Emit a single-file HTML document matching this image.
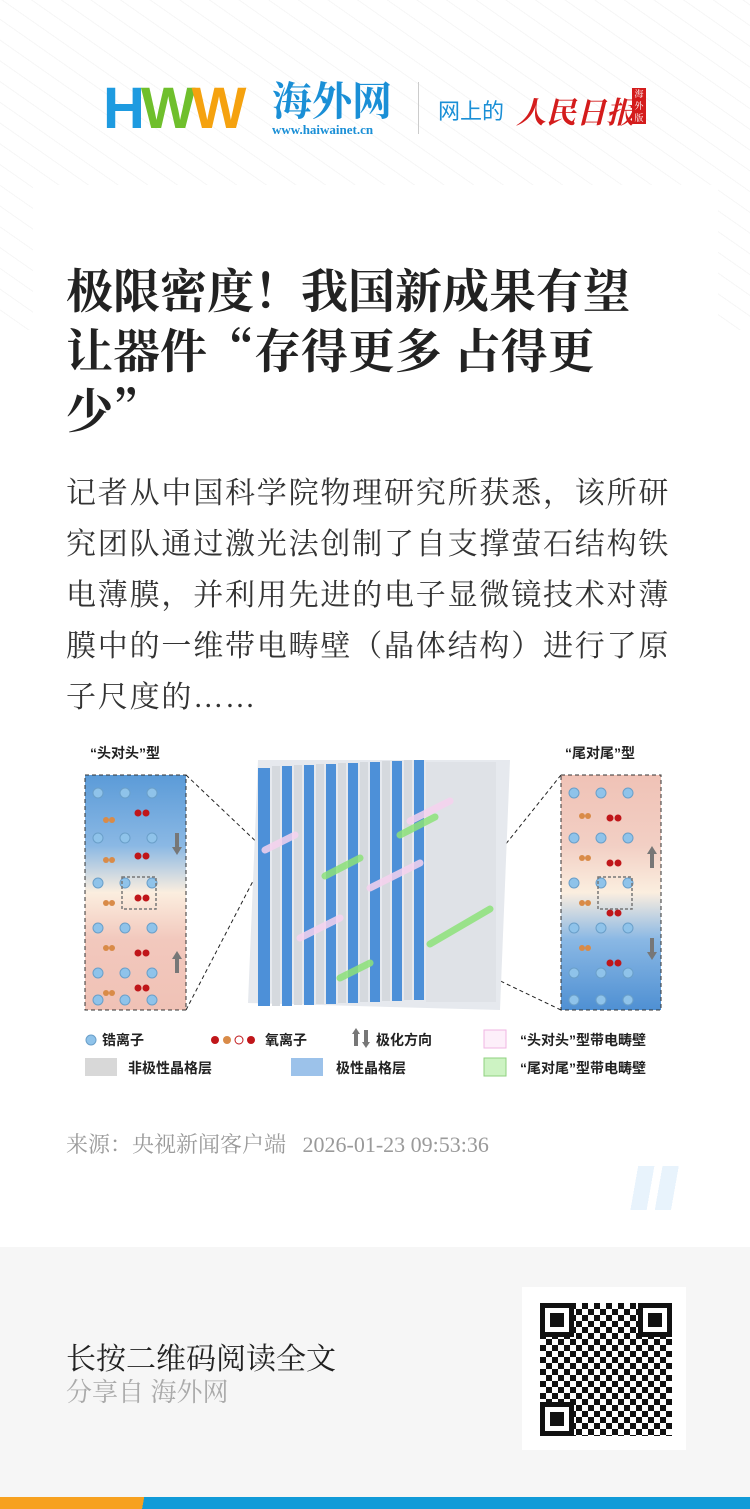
<!DOCTYPE html>
<html><head><meta charset="utf-8"><style>
*{margin:0;padding:0;box-sizing:border-box}
body{width:750px;height:1509px;position:relative;background:#fff;font-family:"Liberation Serif","Noto Serif CJK SC",serif;overflow:hidden}
.bg{position:absolute;left:0;top:0;width:750px;height:330px;background:repeating-linear-gradient(35deg,#fff 0 16px,#f6f6f6 16px 17px)}
.card{position:absolute;left:33px;top:185px;width:685px;height:1062px;background:#fff}
.title{position:absolute;left:66px;top:259px;width:680px;font-size:47px;font-weight:bold;line-height:60px;color:#222;white-space:nowrap;font-family:"Noto Serif CJK SC",serif}
.body{position:absolute;left:66px;top:468px;width:612px;font-size:30px;line-height:51px;color:#333;letter-spacing:1.8px}
.src{position:absolute;left:66px;top:1128px;font-size:22px;color:#9a9a9a}
.foot{position:absolute;left:0;top:1247px;width:750px;height:250px;background:#f6f6f6}
.stripe{position:absolute;left:0;top:1497px;width:750px;height:12px;background:linear-gradient(100deg,#f7a11f 0 142px,#119bd8 142px)}
.qrbox{position:absolute;left:522px;top:1287px;width:164px;height:163px;background:#fff}
.qr{position:absolute;left:540px;top:1303px;width:132px;height:133px;background:
repeating-conic-gradient(#111 0 25%,#fff 0 50%) 0 0/12px 12px}
.fp{position:absolute;width:34px;height:34px;border:5px solid #111;background:#fff}
.fp::after{content:"";position:absolute;left:5px;top:5px;width:14px;height:14px;background:#111}
</style></head><body>
<div class="bg"></div>
<div style="position:absolute;left:103px;top:84px;font:bold 58px 'Liberation Sans',sans-serif;letter-spacing:-4px;line-height:50px"><span style="color:#1e9be0">H</span><span style="color:#6fbf2c">W</span><span style="color:#f5a20f">W</span></div>
<div style="position:absolute;left:272px;top:80px;font-size:40px;font-weight:bold;color:#1a8fd6;line-height:44px">海外网</div>
<div style="position:absolute;left:272px;top:122px;font-size:13px;font-weight:bold;color:#1a8fd6">www.haiwainet.cn</div>
<div style="position:absolute;left:418px;top:82px;width:1px;height:52px;background:#ccc"></div>
<div style="position:absolute;left:438px;top:94px;font:22px 'Liberation Sans','Noto Sans CJK SC',sans-serif;color:#1a8fd6">网上的</div>
<div style="position:absolute;left:516px;top:88px;font-size:30px;font-weight:bold;font-style:italic;color:#d41c1c">人民日报</div>
<div style="position:absolute;left:632px;top:88px;width:14px;height:36px;background:#d41c1c;color:#fff;font-size:9px;line-height:12px;text-align:center">海外版</div>
<div class="card"></div>
<div class="title">极限密度！我国新成果有望<br>让器件“存得更多 占得更<br>少”</div>
<div class="body">记者从中国科学院物理研究所获悉，该所研究团队通过激光法创制了自支撑萤石结构铁电薄膜，并利用先进的电子显微镜技术对薄膜中的一维带电畴壁（晶体结构）进行了原子尺度的……</div>
<svg style="position:absolute;left:80px;top:738px" width="595" height="350" viewBox="0 0 595 350">
<defs>
<linearGradient id="l" x1="0" y1="0" x2="0" y2="1"><stop offset="0" stop-color="#5b9bd8"/><stop offset=".3" stop-color="#8ab8e4"/><stop offset=".5" stop-color="#fbeedf"/><stop offset=".7" stop-color="#f2c8bd"/><stop offset="1" stop-color="#f0c2b6"/></linearGradient>
<linearGradient id="r" x1="0" y1="0" x2="0" y2="1"><stop offset="0" stop-color="#f0c2b6"/><stop offset=".3" stop-color="#f2cfc4"/><stop offset=".5" stop-color="#fbeedf"/><stop offset=".7" stop-color="#8ab8e4"/><stop offset="1" stop-color="#4f90d3"/></linearGradient>
</defs>
<g font-family="Liberation Sans,Noto Sans CJK SC,sans-serif" font-weight="bold" font-size="14" fill="#222">
<text x="10" y="20">“头对头”型</text><text x="485" y="20">“尾对尾”型</text></g>
<rect x="5" y="37" width="101" height="235" fill="url(#l)" stroke="#333" stroke-dasharray="4 3"/>
<rect x="481" y="37" width="100" height="235" fill="url(#r)" stroke="#333" stroke-dasharray="4 3"/>
<g fill="#8fc3ea" stroke="#6a9fc9">
<circle cx="18" cy="55" r="5"/><circle cx="45" cy="55" r="5"/><circle cx="72" cy="55" r="5"/>
<circle cx="18" cy="100" r="5"/><circle cx="45" cy="100" r="5"/><circle cx="72" cy="100" r="5"/>
<circle cx="18" cy="145" r="5"/><circle cx="45" cy="145" r="5"/><circle cx="72" cy="145" r="5"/>
<circle cx="18" cy="190" r="5"/><circle cx="45" cy="190" r="5"/><circle cx="72" cy="190" r="5"/>
<circle cx="18" cy="235" r="5"/><circle cx="45" cy="235" r="5"/><circle cx="72" cy="235" r="5"/>
<circle cx="18" cy="262" r="5"/><circle cx="45" cy="262" r="5"/><circle cx="72" cy="262" r="5"/>
<circle cx="494" cy="55" r="5"/><circle cx="521" cy="55" r="5"/><circle cx="548" cy="55" r="5"/>
<circle cx="494" cy="100" r="5"/><circle cx="521" cy="100" r="5"/><circle cx="548" cy="100" r="5"/>
<circle cx="494" cy="145" r="5"/><circle cx="521" cy="145" r="5"/><circle cx="548" cy="145" r="5"/>
<circle cx="494" cy="190" r="5"/><circle cx="521" cy="190" r="5"/><circle cx="548" cy="190" r="5"/>
<circle cx="494" cy="235" r="5"/><circle cx="521" cy="235" r="5"/><circle cx="548" cy="235" r="5"/>
<circle cx="494" cy="262" r="5"/><circle cx="521" cy="262" r="5"/><circle cx="548" cy="262" r="5"/></g>
<g fill="#c0161a"><circle cx="58" cy="75" r="3.5"/><circle cx="66" cy="75" r="3.5"/><circle cx="58" cy="118" r="3.5"/><circle cx="66" cy="118" r="3.5"/><circle cx="58" cy="160" r="3.5"/><circle cx="66" cy="160" r="3.5"/><circle cx="58" cy="215" r="3.5"/><circle cx="66" cy="215" r="3.5"/><circle cx="58" cy="250" r="3.5"/><circle cx="66" cy="250" r="3.5"/>
<circle cx="530" cy="80" r="3.5"/><circle cx="538" cy="80" r="3.5"/><circle cx="530" cy="125" r="3.5"/><circle cx="538" cy="125" r="3.5"/><circle cx="530" cy="175" r="3.5"/><circle cx="538" cy="175" r="3.5"/><circle cx="530" cy="225" r="3.5"/><circle cx="538" cy="225" r="3.5"/></g>
<g fill="#d98b48"><circle cx="26" cy="82" r="3"/><circle cx="32" cy="82" r="3"/><circle cx="26" cy="122" r="3"/><circle cx="32" cy="122" r="3"/><circle cx="26" cy="165" r="3"/><circle cx="32" cy="165" r="3"/><circle cx="26" cy="210" r="3"/><circle cx="32" cy="210" r="3"/><circle cx="26" cy="255" r="3"/><circle cx="32" cy="255" r="3"/>
<circle cx="502" cy="78" r="3"/><circle cx="508" cy="78" r="3"/><circle cx="502" cy="120" r="3"/><circle cx="508" cy="120" r="3"/><circle cx="502" cy="165" r="3"/><circle cx="508" cy="165" r="3"/><circle cx="502" cy="210" r="3"/><circle cx="508" cy="210" r="3"/></g>
<rect x="42" y="139" width="34" height="32" fill="none" stroke="#777" stroke-width="1.5" stroke-dasharray="3 2"/>
<rect x="518" y="139" width="34" height="32" fill="none" stroke="#777" stroke-width="1.5" stroke-dasharray="3 2"/>
<g fill="#777"><path d="M95 95h4v14h3l-5 8-5-8h3z"/><path d="M95 235h4v-14h3l-5-8-5 8h3z"/><path d="M570 130h4v-14h3l-5-8-5 8h3z"/><path d="M570 200h4v14h3l-5 8-5-8h3z"/></g>
<g stroke="#222" stroke-dasharray="4 3" fill="none"><path d="M106 37L185 112M106 272L185 120M481 37L345 207M481 272L345 207"/></g>
<polygon points="178,22 430,22 420,272 168,265" fill="#e6e9ee"/>
<g>
<rect x="178" y="30" width="12" height="238" fill="#4d90d8"/><rect x="192" y="28" width="8" height="240" fill="#d5d9de"/>
<rect x="202" y="28" width="10" height="240" fill="#4d90d8"/><rect x="214" y="27" width="8" height="240" fill="#d5d9de"/>
<rect x="224" y="27" width="10" height="240" fill="#4d90d8"/><rect x="236" y="26" width="8" height="240" fill="#d5d9de"/>
<rect x="246" y="26" width="10" height="240" fill="#4d90d8"/><rect x="258" y="25" width="8" height="240" fill="#d5d9de"/>
<rect x="268" y="25" width="10" height="240" fill="#4d90d8"/><rect x="280" y="24" width="8" height="240" fill="#d5d9de"/>
<rect x="290" y="24" width="10" height="240" fill="#4d90d8"/><rect x="302" y="23" width="8" height="240" fill="#d5d9de"/>
<rect x="312" y="23" width="10" height="240" fill="#4d90d8"/><rect x="324" y="22" width="8" height="240" fill="#d5d9de"/>
<rect x="334" y="22" width="10" height="240" fill="#4d90d8"/><rect x="346" y="24" width="70" height="240" fill="#dfe2e7"/></g>
<g stroke-width="7" stroke-linecap="round" opacity=".85"><path d="M185 112l30-15M330 83l40-20M220 200l40-20M290 150l50-25" stroke="#f6d2ef"/><path d="M245 138l35-18M320 97l35-18M350 206l60-35M260 240l30-15" stroke="#8de27a"/></g>
<g font-family="Liberation Sans,Noto Sans CJK SC,sans-serif" font-weight="bold" font-size="14" fill="#222">
<circle cx="11" cy="302" r="5" fill="#8fc3ea" stroke="#6a9fc9"/><text x="22" y="307">锆离子</text>
<circle cx="135" cy="302" r="4" fill="#c0161a"/><circle cx="147" cy="302" r="4" fill="#d98b48"/><circle cx="159" cy="302" r="4" fill="#fff" stroke="#c0161a"/><circle cx="171" cy="302" r="4" fill="#c0161a"/><text x="185" y="307">氧离子</text>
<path d="M272 296l4 -6 4 6h-2v12h-4v-12zM284 292h4v12h2l-4 6-4-6h2z" fill="#777"/><text x="296" y="307">极化方向</text>
<rect x="404" y="292" width="22" height="18" fill="#fdeffa" stroke="#f0b6e3"/><text x="440" y="307">“头对头”型带电畴壁</text>
<rect x="5" y="320" width="32" height="18" fill="#d8d8d8"/><text x="48" y="335">非极性晶格层</text>
<rect x="211" y="320" width="32" height="18" fill="#9cc2ea"/><text x="256" y="335">极性晶格层</text>
<rect x="404" y="320" width="22" height="18" fill="#cdf3c3" stroke="#8fd17f"/><text x="440" y="335">“尾对尾”型带电畴壁</text>
</g></svg>
<div class="src">来源：央视新闻客户端&nbsp;&nbsp;&nbsp;2026-01-23 09:53:36</div>
<div style="position:absolute;left:628px;top:1166px;width:58px;height:44px;background:linear-gradient(100deg,transparent 0 10px,#e8f3fc 10px 26px,transparent 26px 34px,#e8f3fc 34px 50px,transparent 50px)"></div>
<div class="foot"></div>
<div style="position:absolute;left:66px;top:1334px;font-size:30px;color:#222">长按二维码阅读全文</div>
<div style="position:absolute;left:66px;top:1372px;font-size:26px;color:#aaa">分享自 海外网</div>
<div class="qrbox"></div>
<div class="qr"></div>
<div class="fp" style="left:540px;top:1303px"></div>
<div class="fp" style="left:638px;top:1303px"></div>
<div class="fp" style="left:540px;top:1402px"></div>
<div class="stripe"></div>
</body></html>
